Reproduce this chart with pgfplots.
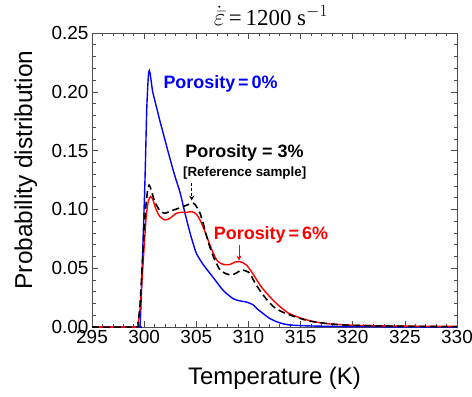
\documentclass[border=0pt]{standalone}
\usepackage{pgfplots}
\pgfplotsset{compat=1.18}
\usepackage{fontspec}
\setmainfont{Liberation Sans}
\newfontfamily\seriffont{Liberation Serif}
\usetikzlibrary{calc,arrows.meta}

\pgfplotstableread{
T v
295 0
299.5 0
299.6 0.001
299.7 0.02
299.9 0.075
300.08 0.125
300.25 0.185
300.4 0.213
300.49 0.218
300.6 0.214
300.8 0.201
301.04 0.192
301.52 0.175
302.0 0.159
302.48 0.143
302.96 0.128
303.44 0.1145
303.92 0.0967
304.4 0.080
304.8 0.068
305.04 0.062
305.67 0.053
306.63 0.042
307.59 0.031
308.55 0.024
309.2 0.0222
309.83 0.0212
310.47 0.0187
310.9 0.015
311.43 0.0113
312.0 0.0075
312.7 0.0045
313.3 0.0028
314.0 0.0017
315.5 0.0010
317.5 0.0006
320 0.0003
325 0.0001
330 0
}\blue

\pgfplotstableread{
T v
295 0
299.2 0
299.4 0.003
299.6 0.015
299.8 0.040
300.0 0.068
300.2 0.094
300.4 0.107
300.62 0.111
300.85 0.108
301.1 0.101
301.5 0.094
302.0 0.091
302.5 0.0925
302.96 0.096
303.44 0.0975
304.0 0.0975
304.6 0.098
305.0 0.096
305.36 0.091
305.7 0.084
306.0 0.077
306.3 0.070
306.63 0.0627
306.96 0.057
307.27 0.0545
307.7 0.053
308.23 0.0532
308.7 0.0552
309.03 0.0556
309.4 0.055
309.83 0.0525
310.3 0.047
310.8 0.040
311.25 0.034
311.75 0.0287
312.4 0.0225
313.03 0.0173
313.8 0.012
314.63 0.0088
315.5 0.0063
316.5 0.0042
317.8 0.0026
320 0.0015
322.6 0.001
326 0.0007
330 0.0005
}\red

\pgfplotstableread{
T v
295 0
299.2 0
299.4 0.004
299.6 0.018
299.8 0.050
300.08 0.094
300.3 0.114
300.47 0.1207
300.7 0.116
301.0 0.107
301.5 0.099
302.0 0.0967
302.5 0.0985
303.0 0.100
303.6 0.102
304.2 0.104
304.6 0.1055
304.9 0.104
305.36 0.0967
305.7 0.087
306.0 0.077
306.3 0.068
306.63 0.060
307.0 0.053
307.27 0.0485
307.8 0.0455
308.39 0.0442
308.9 0.0462
309.35 0.0485
309.8 0.0475
310.15 0.0456
310.6 0.038
311.1 0.031
311.7 0.024
312.4 0.0173
313.2 0.013
314.0 0.0102
315.0 0.0072
316 0.0048
318 0.0025
320 0.0014
325 0.0006
330 0.0003
}\black

\begin{document}
\begin{tikzpicture}
\begin{axis}[
  width=365bp, height=294bp, scale only axis,
  clip mode=individual,
  xmin=295, xmax=330, ymin=0, ymax=0.25,
  xtick={295,300,...,330},
  ytick={0,0.05,0.10,0.15,0.20,0.25},
  minor x tick num=4, minor y tick num=4,
  tick align=inside,
  major tick length=6bp, minor tick length=3.5bp,
  axis line style={draw=black!70, line width=0.8pt},
  every tick/.style={draw=black!70, line width=0.6pt},
  /pgf/number format/assume math mode=true,
  tick label style={font=\fontsize{19}{19}\selectfont},
  yticklabel style={/pgf/number format/.cd, fixed, fixed zerofill, precision=2},
  xticklabel style={/pgf/number format/.cd, 1000 sep={}},
  xlabel={Temperature (K)},
  xlabel style={at={(axis description cs:0.5,-0.197)}, anchor=base, font=\fontsize{24}{24}\selectfont},
  ylabel={Probability distribution},
  ylabel style={at={(axis description cs:-0.164,0.534)}, anchor=base, rotate=0, font=\fontsize{24.5}{24.5}\selectfont},
]
\addplot[blue, line width=1.4pt, smooth, tension=0.4] table[x=T,y=v] {\blue};
\addplot[red, line width=1.4pt, smooth, tension=0.4] table[x=T,y=v] {\red};
\addplot[black, line width=1.6pt, dash pattern=on 7pt off 4pt, smooth, tension=0.4] table[x=T,y=v] {\black};

\node[anchor=base, inner sep=0pt, font=\seriffont\fontsize{23}{23}\selectfont] at (axis description cs:0.49,1.024) {$\dot{\bar{\varepsilon}}$\,=\,1200 s$^{-1}$};

\node[anchor=west, text=blue, font=\bfseries\fontsize{18}{18}\selectfont] at (axis cs:301.52,0.2066) {Porosity\,=\,0\%};
\node[anchor=center, text=black, font=\bfseries\fontsize{18}{18}\selectfont] at (axis cs:309.62,0.1477) {Porosity = 3\%};
\node[anchor=center, text=black, font=\bfseries\fontsize{13.4}{13.4}\selectfont] at (axis cs:309.64,0.1307) {[Reference sample]};
\draw[black, line width=1pt, dash pattern=on 3pt off 2pt, -{Stealth[length=5pt,width=5pt]}] (axis cs:304.56,0.1224) -- (axis cs:304.56,0.1075);
\node[anchor=center, text=red, font=\bfseries\fontsize{18}{18}\selectfont] at (axis cs:312.16,0.0782) {Porosity\,=\,6\%};
\draw[red, line width=1pt, -{Stealth[length=5pt,width=5pt]}] (axis cs:309.1,0.0697) -- (axis cs:309.1,0.0565);
\end{axis}
\pgfresetboundingbox
\path ($(current axis.south west)+(-92bp,-69bp)$) rectangle ($(current axis.north east)+(15bp,33bp)$);
\end{tikzpicture}
\end{document}
